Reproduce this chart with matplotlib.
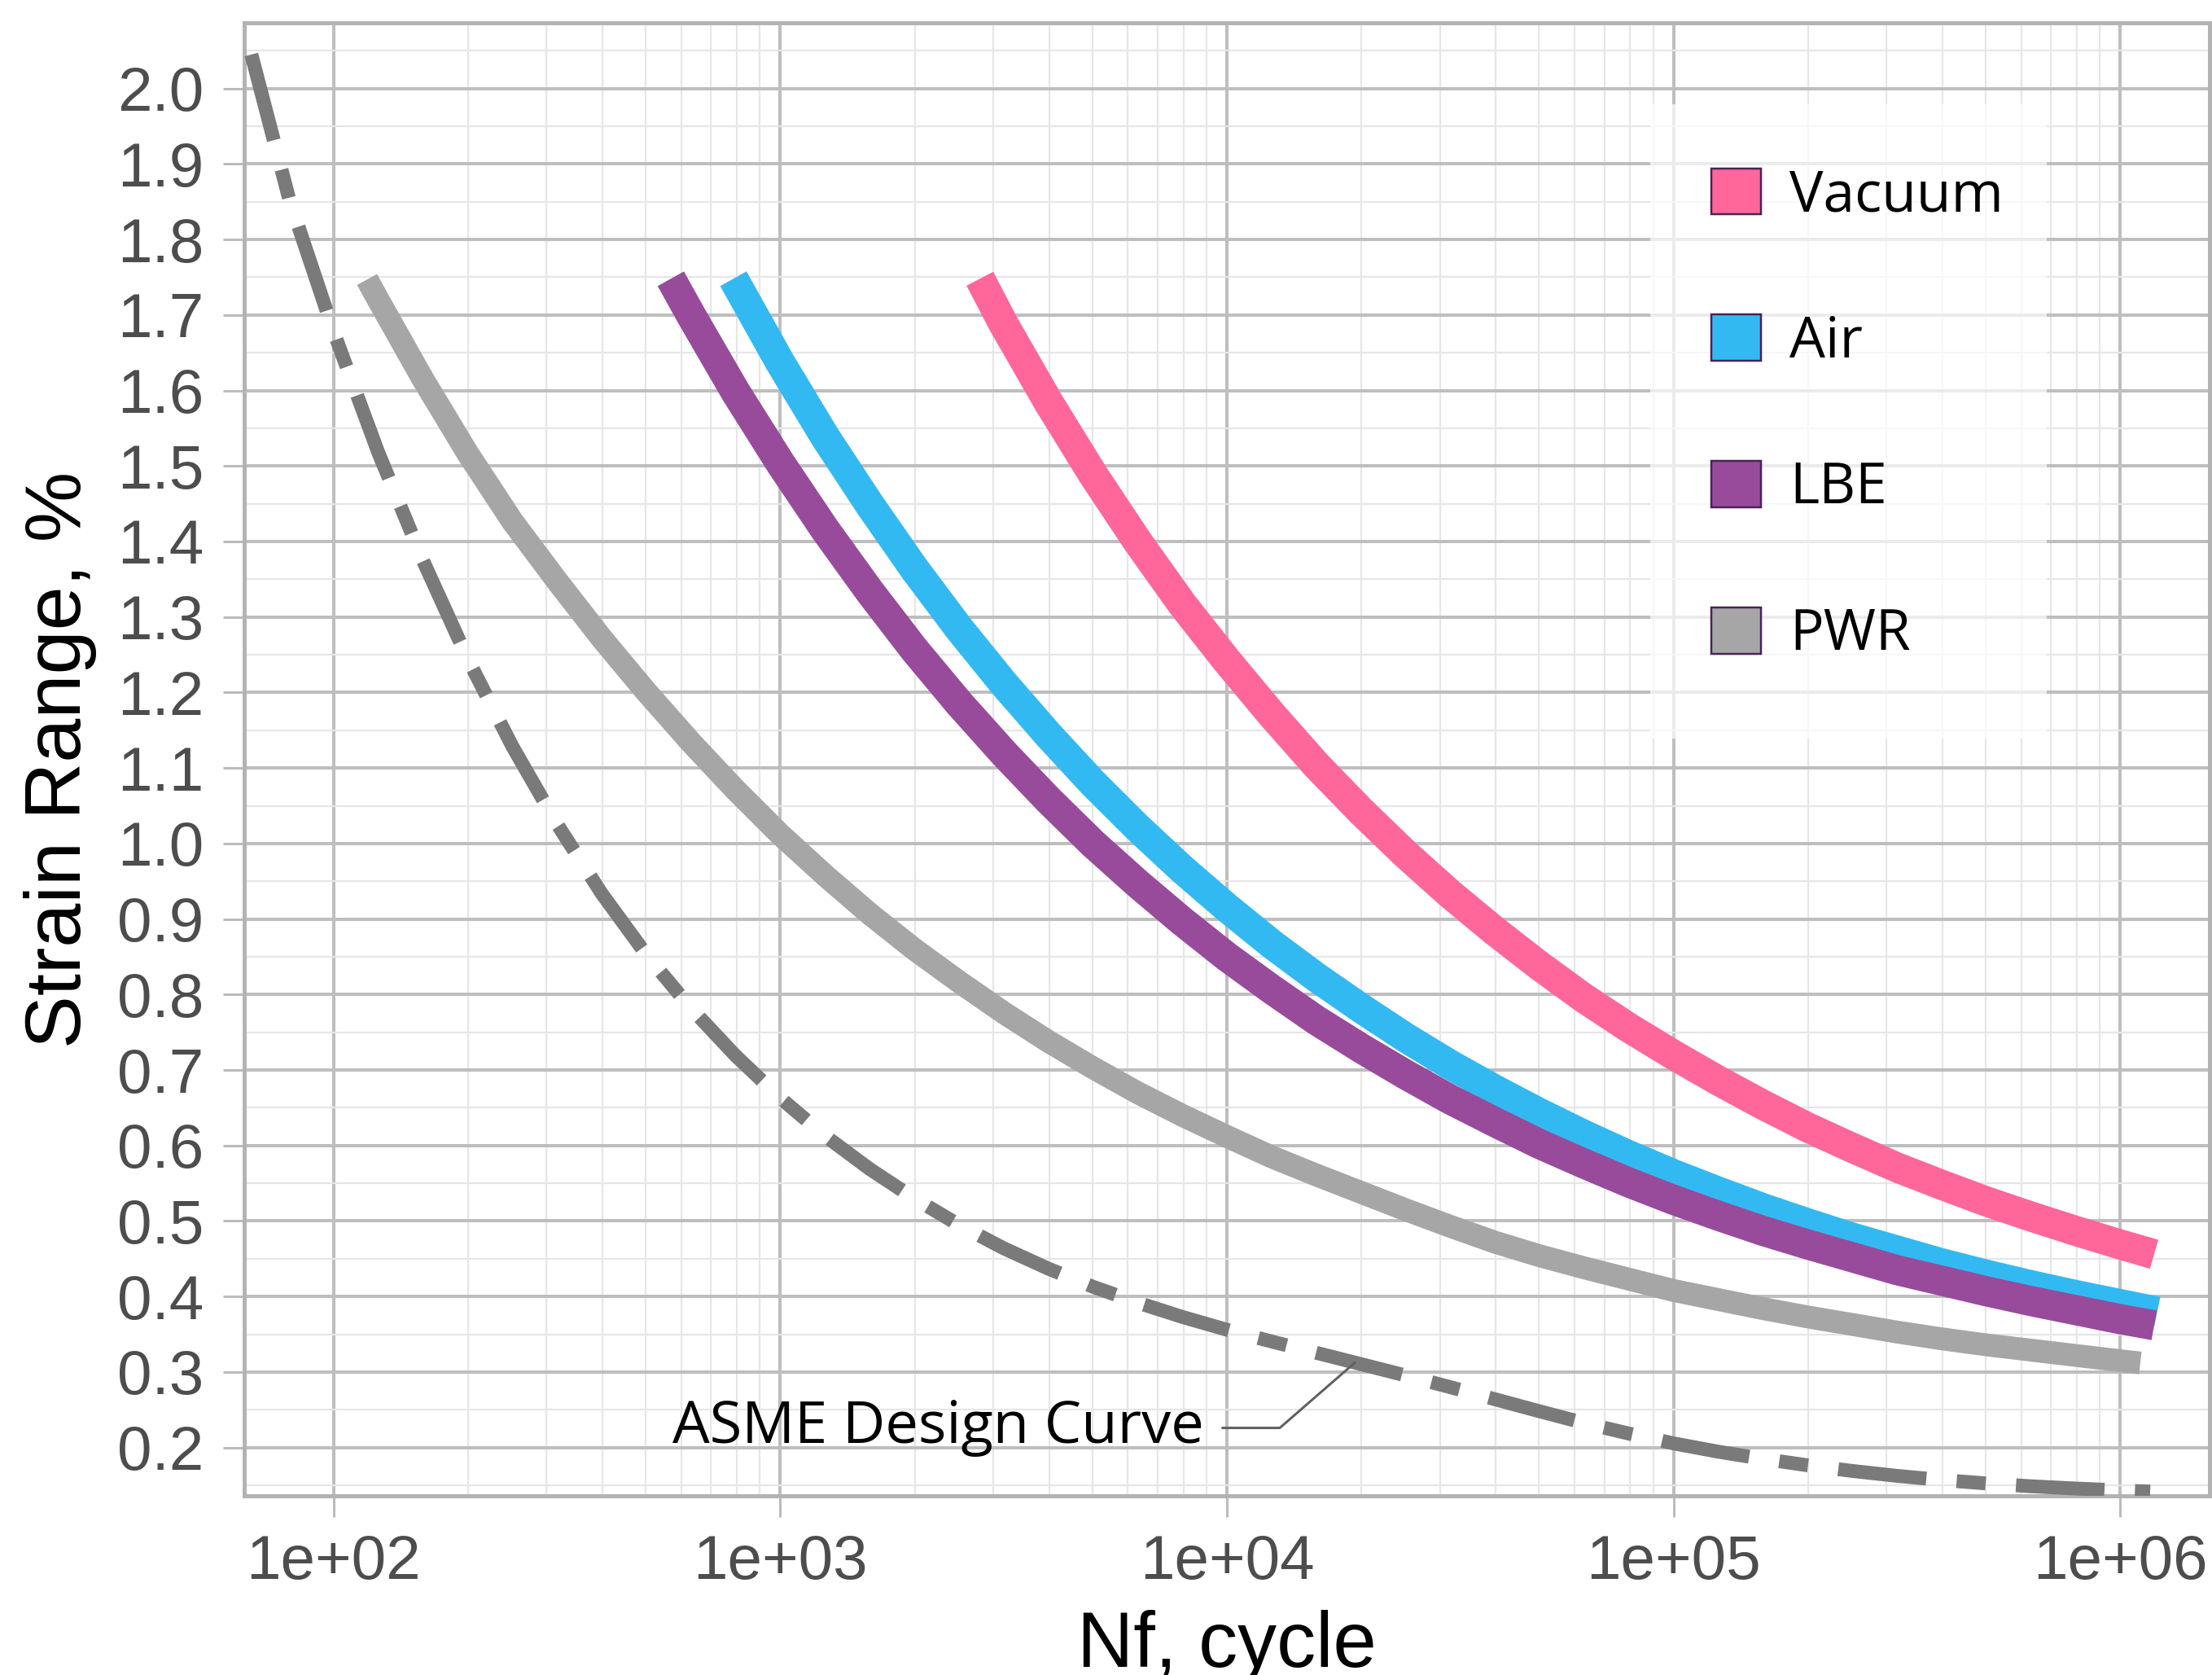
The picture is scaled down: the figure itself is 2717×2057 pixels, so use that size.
import matplotlib
matplotlib.use("Agg")
import matplotlib.pyplot as plt
from matplotlib.patches import Patch, Rectangle
from matplotlib.ticker import FixedLocator, NullFormatter, FixedFormatter

# ---------------- data ----------------
# x values are given as log10(Nf); y values are strain range in %
series_names = ["Vacuum", "Air", "LBE", "PWR"]
series_colors = ["#FF6699", "#33B9F1", "#984B9B", "#A6A6A6"]

vacuum_log_nf = [3.447, 3.5, 3.6, 3.7, 3.8, 3.9, 4.0, 4.1, 4.2, 4.3, 4.4, 4.5,
                 4.6, 4.7, 4.8, 4.9, 5.0, 5.1, 5.2, 5.3, 5.4, 5.5, 5.6, 5.7,
                 5.8, 5.9, 6.0, 6.076]
vacuum_strain = [1.748, 1.688, 1.585, 1.489, 1.400, 1.317, 1.242, 1.171, 1.104,
                 1.043, 0.986, 0.933, 0.884, 0.838, 0.795, 0.756, 0.720, 0.686,
                 0.654, 0.624, 0.597, 0.571, 0.548, 0.526, 0.506, 0.487,
                 0.469, 0.456]

air_log_nf = [2.895, 3.0, 3.1, 3.2, 3.3, 3.4, 3.5, 3.6, 3.7, 3.8, 3.9, 4.0, 4.1,
              4.2, 4.3, 4.4, 4.5, 4.6, 4.7, 4.8, 4.9, 5.0, 5.1, 5.2, 5.3, 5.4,
              5.5, 5.6, 5.7, 5.8, 5.9, 6.0, 6.083]
air_strain = [1.748, 1.637, 1.539, 1.449, 1.364, 1.285, 1.212, 1.144, 1.080,
              1.021, 0.966, 0.915, 0.867, 0.823, 0.782, 0.743, 0.707, 0.674,
              0.643, 0.614, 0.587, 0.562, 0.539, 0.517, 0.497, 0.478, 0.461,
              0.444, 0.429, 0.415, 0.402, 0.390, 0.380]

lbe_log_nf = [2.755, 2.8, 2.9, 3.0, 3.1, 3.2, 3.3, 3.4, 3.5, 3.6, 3.7, 3.8, 3.9,
              4.0, 4.1, 4.2, 4.3, 4.4, 4.5, 4.6, 4.7, 4.8, 4.9, 5.0, 5.1, 5.2,
              5.3, 5.4, 5.5, 5.6, 5.7, 5.8, 5.9, 6.0, 6.076]
lbe_strain = [1.748, 1.700, 1.598, 1.504, 1.416, 1.334, 1.257, 1.186, 1.120,
              1.058, 1.000, 0.947, 0.897, 0.850, 0.807, 0.766, 0.729, 0.694,
              0.661, 0.631, 0.602, 0.576, 0.551, 0.528, 0.507, 0.487, 0.469,
              0.452, 0.435, 0.421, 0.407, 0.394, 0.382, 0.370, 0.362]

pwr_log_nf = [2.075, 2.1, 2.2, 2.3, 2.4, 2.5, 2.6, 2.7, 2.8, 2.9, 3.0, 3.1, 3.2,
              3.3, 3.4, 3.5, 3.6, 3.7, 3.8, 3.9, 4.0, 4.1, 4.2, 4.3, 4.4, 4.5,
              4.6, 4.7, 4.8, 4.9, 5.0, 5.1, 5.2, 5.3, 5.4, 5.5, 5.6, 5.7, 5.8,
              5.9, 6.0, 6.045]
pwr_strain = [1.747, 1.720, 1.615, 1.517, 1.427, 1.348, 1.272, 1.201, 1.134,
              1.071, 1.012, 0.958, 0.907, 0.860, 0.817, 0.776, 0.738, 0.703,
              0.670, 0.640, 0.612, 0.585, 0.561, 0.538, 0.515, 0.493, 0.472,
              0.454, 0.438, 0.423, 0.408, 0.396, 0.384, 0.373, 0.363, 0.353,
              0.344, 0.336, 0.329, 0.322, 0.315, 0.312]

asme_log_nf = [1.816, 1.9, 2.0, 2.1, 2.2, 2.3, 2.4, 2.5, 2.6, 2.7, 2.8, 2.9,
               3.0, 3.1, 3.2, 3.3, 3.4, 3.5, 3.6, 3.7, 3.8, 3.9, 4.0, 4.1,
               4.2, 4.3, 4.4, 4.5, 4.6, 4.7, 4.8, 4.9, 5.0, 5.1, 5.2, 5.3,
               5.4, 5.5, 5.6, 5.7, 5.8, 5.9, 6.0, 6.067]
asme_strain = [2.045, 1.855, 1.678, 1.518, 1.375, 1.245, 1.129, 1.026, 0.934,
               0.853, 0.782, 0.719, 0.663, 0.613, 0.569, 0.530, 0.495, 0.464,
               0.437, 0.413, 0.392, 0.373, 0.356, 0.3405, 0.3255, 0.3105,
               0.2955, 0.280, 0.264, 0.248, 0.2325, 0.2185, 0.2055, 0.1945,
               0.185, 0.1765, 0.169, 0.1625, 0.157, 0.1525, 0.1487, 0.1457,
               0.1432, 0.1417]

asme_label = "ASME Design Curve"
asme_label_pos = (8900, 0.226)       # text anchor (right end, centred)
asme_label_target = (19350, 0.3125)  # point on the ASME curve

x_ticks = [1e2, 1e3, 1e4, 1e5, 1e6]
x_ticklabels = ["1e+02", "1e+03", "1e+04", "1e+05", "1e+06"]
y_ticks = [round(0.2 + 0.1 * i, 1) for i in range(19)]
y_ticklabels = ["%.1f" % v for v in y_ticks]
x_label = "Nf, cycle"
y_label = "Strain Range, %"

# ---------------- figure ----------------
W, H, DPI = 2717, 2057, 100
PX = 72.0 / DPI  # points per pixel
AX_L, AX_R, AX_T, AX_B = 300, 2714, 28, 1837

fig = plt.figure(figsize=(W / DPI, H / DPI), dpi=DPI)
ax = fig.add_axes([AX_L / W, 1 - AX_B / H, (AX_R - AX_L) / W, (AX_B - AX_T) / H])
ax.set_xscale("log")
ax.set_xlim(10 ** 1.8, 10 ** 6.2)
ax.set_ylim(0.136, 2.087)


def ax_x(px):
    return (px - AX_L) / (AX_R - AX_L)


def ax_y(py):
    return 1 - (py - AX_T) / (AX_B - AX_T)


# grid
ax.xaxis.set_major_locator(FixedLocator(x_ticks))
ax.xaxis.set_major_formatter(FixedFormatter(x_ticklabels))
minor_x = [m * d for d in (1e2, 1e3, 1e4, 1e5) for m in range(2, 10)]
ax.xaxis.set_minor_locator(FixedLocator(minor_x))
ax.xaxis.set_minor_formatter(NullFormatter())
ax.yaxis.set_major_locator(FixedLocator(y_ticks))
ax.yaxis.set_major_formatter(FixedFormatter(y_ticklabels))
ax.yaxis.set_minor_locator(FixedLocator([v + 0.05 for v in y_ticks] + [0.15]))
ax.yaxis.set_minor_formatter(NullFormatter())

ax.grid(which="major", color="#BEBEBE", linewidth=4 * PX, zorder=0)
ax.grid(which="minor", color="#E6E6E6", linewidth=2.2 * PX, zorder=0)
ax.set_axisbelow(True)

for sp in ax.spines.values():
    sp.set_color("#B3B3B3")
    sp.set_linewidth(5 * PX)

ax.tick_params(which="major", length=26 * PX, width=3 * PX, color="#BBBBBB",
               labelcolor="#4D4D4D", labelsize=55)
ax.tick_params(axis="y", which="major", pad=17)
ax.tick_params(axis="x", which="major", pad=15)
ax.tick_params(which="minor", length=0)
for lab in ax.get_xticklabels() + ax.get_yticklabels():
    lab.set_fontfamily("Liberation Sans")

# curves
ax.plot([10 ** v for v in asme_log_nf], asme_strain, color="#7A7A7A",
        linewidth=17 * PX, linestyle=(0, (6.4, 2.2, 2.1, 2.2)),
        dash_capstyle="butt", dash_joinstyle="round", zorder=3)

series_x = [vacuum_log_nf, air_log_nf, lbe_log_nf, pwr_log_nf]
series_y = [vacuum_strain, air_strain, lbe_strain, pwr_strain]
series_lw = [37, 37, 37, 28]
for xs, ys, c, lw in zip(series_x, series_y, series_colors, series_lw):
    ax.plot([10 ** v for v in xs], ys, color=c, linewidth=lw * PX,
            solid_capstyle="butt", solid_joinstyle="round", zorder=4)

# ASME label with elbow leader
ax.annotate(asme_label, xy=asme_label_target, xytext=asme_label_pos,
            textcoords="data", ha="right", va="center",
            fontsize=52, fontfamily="Open Sans", color="black",
            arrowprops=dict(arrowstyle="-", color="#606060", lw=3 * PX,
                            shrinkA=14, shrinkB=0,
                            connectionstyle="angle,angleA=0,angleB=41,rad=0"),
            zorder=6)

# axis titles (the x title is cut by the lower edge, as in the reference)
ax.set_xlabel(x_label, fontsize=69, fontfamily="Liberation Sans", labelpad=16)
ax.set_ylabel(y_label, fontsize=70, fontfamily="Liberation Sans", labelpad=18)

# legend: translucent white background + frameless legend
ax.add_patch(Rectangle((ax_x(2027), ax_y(907)), ax_x(2514) - ax_x(2027),
                       ax_y(128) - ax_y(907), transform=ax.transAxes,
                       facecolor="white", alpha=0.7, edgecolor="none",
                       zorder=5))
handles = [Patch(facecolor=c, edgecolor="#4A2257", linewidth=2.5 * PX, label=nm)
           for nm, c in zip(series_names, series_colors)]
leg = ax.legend(handles=handles, loc="upper left",
                bbox_to_anchor=(ax_x(2102), ax_y(206)),
                prop={"family": "Open Sans", "size": 50},
                handlelength=0.88, handleheight=0.88, handletextpad=0.5,
                labelspacing=1.58, borderpad=0, borderaxespad=0,
                frameon=False)
leg.set_zorder(7)

fig.savefig("out.png", dpi=DPI)
